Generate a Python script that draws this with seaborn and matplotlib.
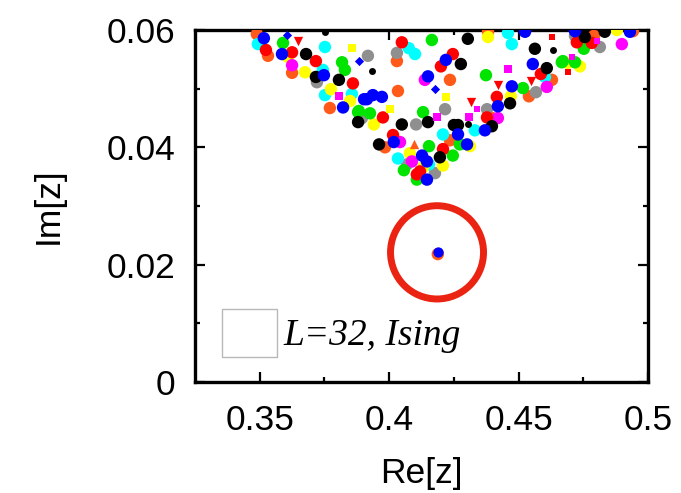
import matplotlib
matplotlib.use("Agg")
import matplotlib.pyplot as plt
import seaborn as sns
import pandas as pd
from matplotlib.patches import Ellipse, Patch
from matplotlib.font_manager import FontProperties

# ---------------- data (Re[z], Im[z]) per colour series ----------------
RED_RE = [0.3524, 0.3625, 0.3717, 0.3860, 0.4049, 0.4246, 0.4200, 0.3976, 0.4015, 0.4208,
          0.4107, 0.4586, 0.4416, 0.4378, 0.4725, 0.4783, 0.4119]
RED_IM = [0.0566, 0.0562, 0.0547, 0.0509, 0.0579, 0.0559, 0.0538, 0.0451, 0.0421, 0.0397,
          0.0354, 0.0525, 0.0486, 0.0451, 0.0579, 0.0578, 0.0359]

GREEN_RE = [0.3590, 0.3818, 0.3829, 0.3880, 0.4165, 0.4131, 0.3883, 0.3926, 0.4154, 0.4273,
            0.4057, 0.4246, 0.4107, 0.4667, 0.4374, 0.4517, 0.4752, 0.4671, 0.4718]
GREEN_IM = [0.0578, 0.0545, 0.0532, 0.0460, 0.0583, 0.0460, 0.0462, 0.0458, 0.0402, 0.0405,
            0.0361, 0.0386, 0.0345, 0.0545, 0.0523, 0.0501, 0.0568, 0.0547, 0.0545]

BLUE_RE = [0.3516, 0.3586, 0.3748, 0.3903, 0.3822, 0.4219, 0.4150, 0.3914, 0.3972, 0.3937,
           0.4266, 0.4018, 0.4127, 0.4146, 0.4525, 0.4555, 0.4474, 0.4420, 0.4370, 0.4301,
           0.4718, 0.4930, 0.4146]
BLUE_IM = [0.0586, 0.0559, 0.0523, 0.0482, 0.0468, 0.0549, 0.0521, 0.0482, 0.0486, 0.0489,
           0.0422, 0.0409, 0.0386, 0.0345, 0.0597, 0.0542, 0.0504, 0.0470, 0.0429, 0.0405,
           0.0598, 0.0597, 0.0376]

BLACK_RE = [0.3679, 0.3717, 0.3806, 0.3880, 0.4049, 0.4150, 0.4250, 0.3961, 0.4196, 0.4304,
            0.4563, 0.4609, 0.4467, 0.4397, 0.4266, 0.4833, 0.4756, 0.4277]
BLACK_IM = [0.0559, 0.0520, 0.0515, 0.0443, 0.0439, 0.0443, 0.0438, 0.0405, 0.0383, 0.0585,
            0.0568, 0.0535, 0.0475, 0.0436, 0.0438, 0.0597, 0.0588, 0.0542]

GRAY_RE = [0.3721, 0.3887, 0.4030, 0.3918, 0.4216, 0.3895, 0.4104, 0.4069, 0.4177, 0.4567,
           0.4378, 0.4718, 0.4814]
GRAY_IM = [0.0511, 0.0448, 0.0561, 0.0556, 0.0465, 0.0450, 0.0439, 0.0371, 0.0356, 0.0494,
           0.0465, 0.0590, 0.0571]

CYAN_RE = [0.3493, 0.3752, 0.3744, 0.3752, 0.3856, 0.4076, 0.4100, 0.4208, 0.4034, 0.4154,
           0.4459, 0.4474, 0.4602, 0.4331]
CYAN_IM = [0.0576, 0.0571, 0.0532, 0.0489, 0.0491, 0.0569, 0.0559, 0.0422, 0.0381, 0.0371,
           0.0595, 0.0576, 0.0520, 0.0429]

MAGENTA_RE = [0.3625, 0.4138, 0.4042, 0.4609, 0.4420, 0.4899, 0.4088]
MAGENTA_IM = [0.0540, 0.0515, 0.0409, 0.0503, 0.0450, 0.0576, 0.0376]

YELLOW_RE = [0.3609, 0.3675, 0.3775, 0.3849, 0.3941, 0.4080, 0.4131, 0.4208, 0.4382, 0.4470,
             0.4312, 0.4880, 0.4690, 0.4737]
YELLOW_IM = [0.0554, 0.0528, 0.0499, 0.0479, 0.0439, 0.0390, 0.0366, 0.0369, 0.0588, 0.0487,
             0.0402, 0.0600, 0.0544, 0.0538]

ORANGE_RE = [0.3489, 0.3532, 0.3625, 0.3771, 0.4030, 0.4235, 0.4034, 0.3984, 0.4235, 0.4382,
             0.4629, 0.4540, 0.4397, 0.4791, 0.4942, 0.4188]
ORANGE_IM = [0.0593, 0.0556, 0.0527, 0.0467, 0.0547, 0.0515, 0.0496, 0.0400, 0.0412, 0.0597,
             0.0515, 0.0487, 0.0450, 0.0590, 0.0598, 0.0218]

# small / other markers
RED_TRI_RE = [0.4420, 0.4548, 0.4316, 0.3648]
RED_TRI_IM = [0.0506, 0.0513, 0.0477, 0.0581]
ORANGE_TRI_RE = [0.4096]
ORANGE_TRI_IM = [0.0405]
MAG_SQ_RE = [0.3806, 0.4185, 0.4459, 0.4308]
MAG_SQ_IM = [0.0487, 0.0451, 0.0533, 0.0451]
YEL_SQ_RE = [0.3856, 0.4219, 0.4003]
YEL_SQ_IM = [0.0569, 0.0486, 0.0465]
SMALL_BLUE_RE = [0.3605, 0.3883, 0.4177]
SMALL_BLUE_IM = [0.0591, 0.0547, 0.0499]
SMALL_BLACK_RE = [0.3752, 0.3934, 0.4633, 0.4304]
SMALL_BLACK_IM = [0.0597, 0.0530, 0.0566, 0.0439]
SMALL_MAG_RE = [0.4339, 0.4803, 0.4706]
SMALL_MAG_IM = [0.0465, 0.0581, 0.0554]
SMALL_MISC_RE = [0.4629, 0.4690]
SMALL_MISC_IM = [0.0588, 0.0528]

# isolated zero
ISO_RE = [0.4188]
ISO_IM = [0.0221]

LEGEND_LABEL = "L=32, Ising"
X_TICKS = [0.35, 0.40, 0.45, 0.50]
X_TICKLABELS = ["0.35", "0.4", "0.45", "0.5"]
Y_TICKS = [0.0, 0.02, 0.04, 0.06]
Y_TICKLABELS = ["0", "0.02", "0.04", "0.06"]

COLORS = {
    "red": "#ff0000", "green": "#00e400", "blue": "#0000ff", "black": "#000000",
    "gray": "#8f8f8f", "cyan": "#00ffff", "magenta": "#ff00ff", "yellow": "#ffff00",
    "orange": "#ff5a1a",
}

plt.rcParams["font.family"] = ["Liberation Sans", "DejaVu Sans"]

fig = plt.figure(figsize=(6.81, 4.93), dpi=100)
ax = fig.add_axes([195 / 681, 1 - 382 / 493, (648 - 195) / 681, (382 - 30) / 493])

series = [
    ("orange", ORANGE_RE, ORANGE_IM), ("gray", GRAY_RE, GRAY_IM), ("cyan", CYAN_RE, CYAN_IM),
    ("yellow", YELLOW_RE, YELLOW_IM), ("magenta", MAGENTA_RE, MAGENTA_IM),
    ("green", GREEN_RE, GREEN_IM), ("red", RED_RE, RED_IM), ("black", BLACK_RE, BLACK_IM),
    ("blue", BLUE_RE, BLUE_IM),
]
rows = []
for name, xs, ys in series:
    for x, y in zip(xs, ys):
        rows.append({"re": x, "im": y, "series": name})
df = pd.DataFrame(rows)
sns.scatterplot(data=df, x="re", y="im", hue="series", palette=COLORS, s=80,
                linewidth=0, marker="o", legend=False, ax=ax, zorder=3)

def small(xs, ys, color, marker, s):
    sns.scatterplot(x=xs, y=ys, color=color, marker=marker, s=s, linewidth=0,
                    legend=False, ax=ax, zorder=4)

small(RED_TRI_RE, RED_TRI_IM, COLORS["red"], "v", 45)
small(ORANGE_TRI_RE, ORANGE_TRI_IM, COLORS["orange"], "^", 45)
small(MAG_SQ_RE, MAG_SQ_IM, COLORS["magenta"], "s", 40)
small(YEL_SQ_RE, YEL_SQ_IM, COLORS["yellow"], "s", 40)
small(SMALL_BLUE_RE, SMALL_BLUE_IM, COLORS["blue"], "D", 22)
small(SMALL_BLACK_RE, SMALL_BLACK_IM, COLORS["black"], "o", 25)
small(SMALL_MAG_RE, SMALL_MAG_IM, COLORS["magenta"], "s", 20)
small(SMALL_MISC_RE, SMALL_MISC_IM, COLORS["red"], "s", 20)
sns.scatterplot(x=ISO_RE, y=ISO_IM, color=COLORS["blue"], s=55, linewidth=0,
                legend=False, ax=ax, zorder=5)

# red highlight circle
ax.add_patch(Ellipse((0.4185, 0.0221), width=93 / 2589, height=93 / 5850,
                     fill=False, edgecolor="#ea2312", linewidth=5.0, zorder=6))

ax.set_xlim(0.325, 0.5)
ax.set_ylim(0.0, 0.06)
ax.set_xticks(X_TICKS)
ax.set_xticklabels(X_TICKLABELS)
ax.set_yticks(Y_TICKS)
ax.set_yticklabels(Y_TICKLABELS)
ax.set_xticks([0.375, 0.425, 0.475], minor=True)
ax.set_yticks([0.01, 0.03, 0.05], minor=True)
ax.tick_params(which="both", direction="in", top=True, right=True, width=1.6,
               labelsize=25.5, colors="black")
ax.tick_params(which="major", length=7)
ax.tick_params(which="minor", length=3.5)
ax.tick_params(axis="x", which="major", pad=16)
ax.tick_params(axis="y", which="major", pad=14)
for sp in ax.spines.values():
    sp.set_linewidth(2.4)
    sp.set_color("black")

ax.set_xlabel("Re[z]", fontsize=25.5, labelpad=14)
ax.set_ylabel("Im[z]", fontsize=25.5, labelpad=30)

handle = Patch(facecolor="white", edgecolor="#b8b8b8", linewidth=1.0)
ax.legend([handle], [LEGEND_LABEL], loc="lower left", bbox_to_anchor=(0.06, 0.071),
          frameon=False, handlelength=1.47, handleheight=1.59, handletextpad=0.16,
          borderaxespad=0, borderpad=0,
          prop=FontProperties(family="Liberation Serif", style="italic", size=27))

fig.savefig("out.png", dpi=100)
